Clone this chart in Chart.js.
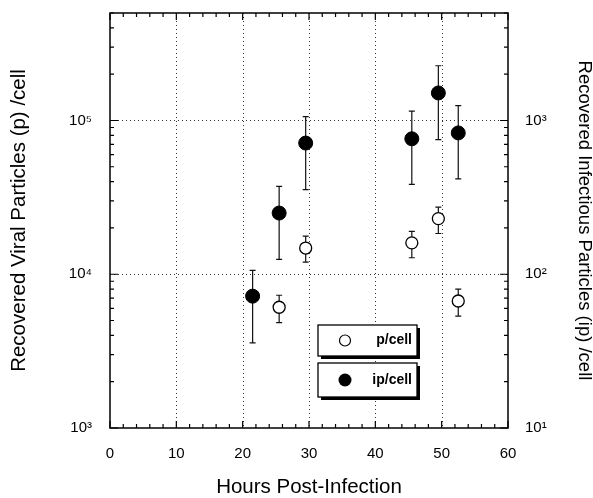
<!DOCTYPE html>
<html>
<head>
<meta charset="utf-8">
<script src="https://cdn.jsdelivr.net/npm/chart.js@4.4.1/dist/chart.umd.min.js"></script>
<style>
  html, body { margin: 0; padding: 0; background: #fff; }
  #wrap { width: 593px; height: 498px; }
</style>
</head>
<body>
<div id="wrap"><canvas id="virusChart"></canvas></div>
<script>
// p/cell (open circles, left axis)
var pHours = [25.5, 29.5, 45.5, 49.5, 52.5];
var pValues = [6100, 14800, 16000, 23000, 6700];
var pLow = [4850, 12000, 12800, 18400, 5340];
var pHigh = [7300, 17700, 19000, 27300, 8000];

// ip/cell (filled circles, right axis)
var ipHours = [21.5, 25.5, 29.5, 45.5, 49.5, 52.5];
var ipValues = [72, 250, 713, 760, 1510, 830];
var ipLow = [35.8, 125, 355, 384, 750, 417];
var ipHigh = [106, 373, 1060, 1150, 2270, 1250];

var xTicks = [0, 10, 20, 30, 40, 50, 60];
var leftTicks = [1e3, 1e4, 1e5];
var rightTicks = [1e1, 1e2, 1e3];
var legendLabels = ["p/cell", "ip/cell"];

var sup = { "0": "\u2070", "1": "\u00b9", "2": "\u00b2", "3": "\u00b3", "4": "\u2074", "5": "\u2075", "6": "\u2076" };
function powLabel(v) {
    var e = String(Math.round(Math.log10(v)));
    return "10" + e.split("").map(function (c) { return sup[c]; }).join("");
}

var fontFam = "'Liberation Sans', Arial, Helvetica, sans-serif";

// error bars, drawn under the markers
var errorBars = {
    id: 'errorBars',
    beforeDatasetsDraw: function (chart) {
        var ctx = chart.ctx;
        var x = chart.scales.x;
        var sets = [
            { h: pHours, lo: pLow, hi: pHigh, s: chart.scales.y },
            { h: ipHours, lo: ipLow, hi: ipHigh, s: chart.scales.y2 }
        ];
        ctx.save();
        ctx.strokeStyle = '#111';
        ctx.lineWidth = 1.2;
        sets.forEach(function (set) {
            for (var i = 0; i < set.h.length; i++) {
                var px = x.getPixelForValue(set.h[i]);
                var y1 = set.s.getPixelForValue(set.lo[i]);
                var y2 = set.s.getPixelForValue(set.hi[i]);
                ctx.beginPath();
                ctx.moveTo(px, y1); ctx.lineTo(px, y2);
                ctx.moveTo(px - 3, y1); ctx.lineTo(px + 3, y1);
                ctx.moveTo(px - 3, y2); ctx.lineTo(px + 3, y2);
                ctx.stroke();
            }
        });
        ctx.restore();
    }
};

// frame, dotted grid and inward ticks
var frame = {
    id: 'frame',
    beforeDatasetsDraw: function (chart) {
        var ctx = chart.ctx;
        var a = chart.chartArea;
        var x = chart.scales.x, y = chart.scales.y, y2 = chart.scales.y2;
        ctx.save();
        ctx.strokeStyle = '#333';
        ctx.lineWidth = 1;
        ctx.setLineDash([1, 3]);
        ctx.beginPath();
        xTicks.slice(1, -1).forEach(function (v) {
            var px = Math.round(x.getPixelForValue(v)) + 0.5;
            ctx.moveTo(px, a.top); ctx.lineTo(px, a.bottom);
        });
        leftTicks.slice(1).forEach(function (v) {
            var py = Math.round(y.getPixelForValue(v)) + 0.5;
            ctx.moveTo(a.left, py); ctx.lineTo(a.right, py);
        });
        ctx.stroke();
        ctx.setLineDash([]);

        ctx.strokeStyle = '#000';
        ctx.lineWidth = 1.5;
        ctx.strokeRect(a.left, a.top, a.right - a.left, a.bottom - a.top);

        ctx.lineWidth = 1.2;
        ctx.beginPath();
        for (var v = 0; v <= 60; v += 2) {
            var px = x.getPixelForValue(v);
            var len = v % 10 === 0 ? 7 : 4;
            ctx.moveTo(px, a.bottom); ctx.lineTo(px, a.bottom - len);
            ctx.moveTo(px, a.top); ctx.lineTo(px, a.top + len);
        }
        function logTicks(scale, lo, side) {
            for (var d = lo; d <= scale.max; d *= 10) {
                for (var m = 1; m <= 9; m++) {
                    var val = d * m;
                    if (val < scale.min || val > scale.max) continue;
                    var py = scale.getPixelForValue(val);
                    var len = m === 1 ? 8 : 4;
                    if (side === 'left') { ctx.moveTo(a.left, py); ctx.lineTo(a.left + len, py); }
                    else { ctx.moveTo(a.right, py); ctx.lineTo(a.right - len, py); }
                }
            }
        }
        logTicks(y, 1e3, 'left');
        logTicks(y2, 1e1, 'right');
        ctx.stroke();
        ctx.restore();
    }
};

// boxed legend with drop shadow
var boxLegend = {
    id: 'boxLegend',
    afterDraw: function (chart) {
        var ctx = chart.ctx;
        var a = chart.chartArea;
        var bx = a.left + 208, bw = 99;
        var boxes = [{ top: a.top + 312, h: 31, filled: false }, { top: a.top + 350, h: 34, filled: true }];
        ctx.save();
        boxes.forEach(function (b, i) {
            ctx.fillStyle = '#000';
            ctx.fillRect(bx + 3, b.top + 3, bw, b.h);
            ctx.fillStyle = '#fff';
            ctx.fillRect(bx, b.top, bw, b.h);
            ctx.strokeStyle = '#000';
            ctx.lineWidth = 1.3;
            ctx.strokeRect(bx, b.top, bw, b.h);
            var cy = b.top + b.h / 2;
            ctx.beginPath();
            ctx.arc(bx + 27, cy, b.filled ? 6.5 : 5.5, 0, Math.PI * 2);
            if (b.filled) { ctx.fillStyle = '#000'; ctx.fill(); }
            else { ctx.lineWidth = 1.2; ctx.stroke(); }
            ctx.fillStyle = '#000';
            ctx.font = 'bold 14px ' + fontFam;
            ctx.textAlign = 'right';
            ctx.textBaseline = 'middle';
            ctx.fillText(legendLabels[i], bx + bw - 5, cy);
        });
        ctx.restore();
    }
};

function noPad(s) { s.paddingTop = 0; s.paddingBottom = 0; }

var ctv = document.getElementById("virusChart");
var virusChart = new Chart(ctv, {
    type: 'scatter',
    data: {
        datasets: [{
            label: legendLabels[0],
            data: pHours.map(function (h, i) { return { x: h, y: pValues[i] }; }),
            yAxisID: 'y',
            pointStyle: 'circle',
            pointRadius: 6,
            backgroundColor: '#fff',
            borderColor: '#000',
            borderWidth: 1.3,
        }, {
            label: legendLabels[1],
            data: ipHours.map(function (h, i) { return { x: h, y: ipValues[i] }; }),
            yAxisID: 'y2',
            pointStyle: 'circle',
            pointRadius: 7,
            backgroundColor: '#000',
            borderColor: '#000',
            borderWidth: 1,
        }],
    },
    options: {
        responsive: true,
        maintainAspectRatio: false,
        animation: false,
        layout: { padding: { top: 13, left: 0, right: 0, bottom: 0 } },
        plugins: {
            legend: { display: false },
            tooltip: { enabled: false },
        },
        scales: {
            x: {
                type: 'linear',
                min: 0, max: 60,
                afterBuildTicks: function (s) { s.ticks = xTicks.map(function (v) { return { value: v }; }); },
                afterFit: function (s) { s.height = 70; s.paddingLeft = 0; s.paddingRight = 0; },
                grid: { display: false },
                border: { display: false },
                ticks: { color: '#000', padding: 9, font: { family: fontFam, size: 15 } },
                title: { display: true, text: 'Hours Post-Infection', color: '#000', padding: 0, font: { family: fontFam, size: 20.5, lineHeight: 1 } },
            },
            y: {
                type: 'logarithmic',
                position: 'left',
                min: 1e3, max: 5e5,
                afterBuildTicks: function (s) { s.ticks = leftTicks.map(function (v) { return { value: v }; }); },
                afterFit: function (s) { s.width = 110; noPad(s); },
                grid: { display: false },
                border: { display: false },
                ticks: { color: '#000', padding: 10, callback: function (v) { return powLabel(v); }, font: { family: fontFam, size: 15 } },
                title: { display: true, text: 'Recovered Viral Particles (p) /cell', color: '#000', padding: { top: 9, bottom: 0 }, font: { family: fontFam, size: 20.5, lineHeight: 1 } },
            },
            y2: {
                type: 'logarithmic',
                position: 'right',
                min: 1e1, max: 5e3,
                afterBuildTicks: function (s) { s.ticks = rightTicks.map(function (v) { return { value: v }; }); },
                afterFit: function (s) { s.width = 85; noPad(s); },
                grid: { display: false },
                border: { display: false },
                ticks: { color: '#000', padding: 9, callback: function (v) { return powLabel(v); }, font: { family: fontFam, size: 15 } },
                title: { display: true, text: 'Recovered Infectious Particles (ip) /cell', color: '#000', padding: { top: 0, bottom: 0 }, font: { family: fontFam, size: 18.5, lineHeight: 1 } },
            },
        },
    },
    plugins: [frame, errorBars, boxLegend],
});
</script>
</body>
</html>
